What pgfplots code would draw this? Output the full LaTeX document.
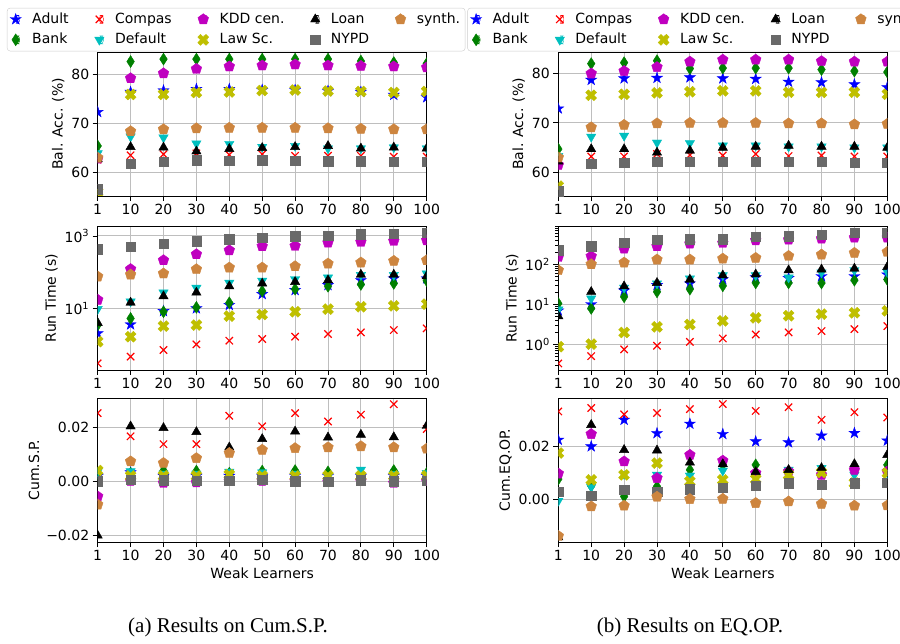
\documentclass[border=0pt]{standalone}
\usepackage{pgfplots}
\pgfplotsset{compat=1.18}
\usepackage{pgfplotstable}
\usepackage{fontspec}
\setmainfont{DejaVu Sans}
\newfontfamily\capfont{Liberation Serif}
\usetikzlibrary{plotmarks}

\definecolor{cAdult}{RGB}{0,0,255}
\definecolor{cBank}{RGB}{0,128,0}
\definecolor{cCompas}{RGB}{255,0,0}
\definecolor{cDefault}{RGB}{0,191,191}
\definecolor{cKDD}{RGB}{191,0,191}
\definecolor{cLaw}{RGB}{191,191,0}
\definecolor{cLoan}{RGB}{0,0,0}
\definecolor{cNYPD}{RGB}{105,105,105}
\definecolor{cSynth}{RGB}{205,133,63}
\definecolor{gridc}{RGB}{190,190,190}
\definecolor{legc}{RGB}{204,204,204}

\pgfdeclareplotmark{mstar}{%
  \pgfpathmoveto{\pgfqpointpolar{90}{\pgfplotmarksize}}%
  \pgfpathlineto{\pgfqpointpolar{126}{0.382\pgfplotmarksize}}%
  \pgfpathlineto{\pgfqpointpolar{162}{\pgfplotmarksize}}%
  \pgfpathlineto{\pgfqpointpolar{198}{0.382\pgfplotmarksize}}%
  \pgfpathlineto{\pgfqpointpolar{234}{\pgfplotmarksize}}%
  \pgfpathlineto{\pgfqpointpolar{270}{0.382\pgfplotmarksize}}%
  \pgfpathlineto{\pgfqpointpolar{306}{\pgfplotmarksize}}%
  \pgfpathlineto{\pgfqpointpolar{342}{0.382\pgfplotmarksize}}%
  \pgfpathlineto{\pgfqpointpolar{18}{\pgfplotmarksize}}%
  \pgfpathlineto{\pgfqpointpolar{54}{0.382\pgfplotmarksize}}%
  \pgfpathclose
  \pgfusepathqfillstroke
}
\pgfdeclareplotmark{mxfill}{%
  \pgfpathmoveto{\pgfqpoint{0.4714\pgfplotmarksize}{-0.9428\pgfplotmarksize}}%
  \pgfpathlineto{\pgfqpoint{0.9428\pgfplotmarksize}{-0.4714\pgfplotmarksize}}%
  \pgfpathlineto{\pgfqpoint{0.4714\pgfplotmarksize}{0pt}}%
  \pgfpathlineto{\pgfqpoint{0.9428\pgfplotmarksize}{0.4714\pgfplotmarksize}}%
  \pgfpathlineto{\pgfqpoint{0.4714\pgfplotmarksize}{0.9428\pgfplotmarksize}}%
  \pgfpathlineto{\pgfqpoint{0pt}{0.4714\pgfplotmarksize}}%
  \pgfpathlineto{\pgfqpoint{-0.4714\pgfplotmarksize}{0.9428\pgfplotmarksize}}%
  \pgfpathlineto{\pgfqpoint{-0.9428\pgfplotmarksize}{0.4714\pgfplotmarksize}}%
  \pgfpathlineto{\pgfqpoint{-0.4714\pgfplotmarksize}{0pt}}%
  \pgfpathlineto{\pgfqpoint{-0.9428\pgfplotmarksize}{-0.4714\pgfplotmarksize}}%
  \pgfpathlineto{\pgfqpoint{-0.4714\pgfplotmarksize}{-0.9428\pgfplotmarksize}}%
  \pgfpathlineto{\pgfqpoint{0pt}{-0.4714\pgfplotmarksize}}%
  \pgfpathclose
  \pgfusepathqfillstroke
}

% ---------- data ----------
\pgfplotstableread{
x Adult Bank Compas Default KDD Law Loan NYPD synth
0 72.3 65.4 62.6 63.9 62.8 56.0 62.7 56.6 63.0
1 76.4 82.6 63.5 67.3 79.2 75.9 65.2 61.8 68.4
2 76.7 83.1 63.7 67.1 80.2 75.9 65.1 62.2 68.8
3 77.0 83.1 63.9 65.9 81.1 76.3 64.3 62.5 69.0
4 77.0 83.1 63.6 65.8 81.6 76.4 64.8 62.4 69.1
5 76.8 83.1 63.7 65.2 81.8 76.7 65.0 62.5 69.1
6 76.8 83.1 63.4 65.4 82.0 76.8 65.2 62.4 69.1
7 76.6 83.1 63.4 64.9 81.8 76.6 65.4 62.3 69.0
8 76.4 82.7 63.4 64.9 81.7 76.5 64.9 62.3 68.9
9 75.8 82.4 63.2 65.1 81.6 76.3 65.1 62.2 68.8
10 75.3 82.2 63.2 64.9 81.4 76.5 64.9 62.2 68.8
}\tabBAa
\pgfplotstableread{
x Adult Bank Compas Default KDD Law Loan NYPD synth
0 72.9 64.7 62.5 63.3 61.5 57.2 62.2 56.2 63.0
1 78.7 82.0 63.2 67.2 80.0 75.6 64.7 61.7 69.1
2 79.0 82.2 63.2 67.4 80.5 75.8 64.7 62.0 69.6
3 79.1 82.6 63.7 66.0 81.3 76.1 64.0 62.2 69.9
4 79.2 81.0 63.5 65.9 82.4 76.3 64.4 62.2 70.0
5 79.0 81.1 63.4 65.4 82.8 76.5 65.0 62.2 70.0
6 78.9 81.1 63.7 65.4 82.8 76.5 65.2 62.2 70.0
7 78.3 81.1 63.3 65.2 82.8 76.2 65.4 62.1 69.9
8 78.2 80.8 63.4 65.2 82.5 76.2 65.2 62.1 69.9
9 77.8 80.5 63.2 65.0 82.4 76.2 65.2 62.0 69.7
10 77.2 80.3 63.2 65.0 82.4 75.8 65.0 62.0 69.8
}\tabBAb
\pgfplotstableread{
x Adult Bank Compas Default KDD Law Loan NYPD synth
0 2.05 3.5 0.306 9.6 17.3 1.21 4.0 430 76
1 3.6 5.3 0.468 15.5 122 1.66 14.5 497 86
2 8.4 8.1 0.713 27.5 214 3.27 21.8 615 92
3 10 10.7 1.02 37 313 3.47 27.5 713 121
4 12.4 14.3 1.29 51 403 6.15 41 810 134
5 24.8 30 1.43 58 520 6.8 49 900 134
6 32 34 1.66 64 531 8.1 54 979 146
7 44 41 1.97 71 656 9.6 60 1000 173
8 60 46 2.18 83 684 11.1 86 1110 185
9 67 49 2.53 83 728 11.8 86 1160 205
10 67 58 2.82 92 760 13.2 78 1235 214
}\tabRTa
\pgfplotstableread{
x Adult Bank Compas Default KDD Law Loan NYPD synth
0 7 10.5 0.336 7.4 152 0.875 5.08 223 71
1 10 7.9 0.51 14 158 1.02 20.5 281 100
2 22 15.4 0.75 26 245 1.99 28.3 340 110
3 30 20.5 0.93 33 281 2.75 34.3 411 131
4 33 23.9 1.16 44 327 3.15 41.5 419 131
5 42 28.9 1.41 53 340 3.88 53 419 138
6 47 34.3 1.77 53 396 4.61 56 479 144
7 45 34.3 1.99 46.5 411 5.17 71 498 161
8 50 34 2.15 62 435 5.69 74 548 174
9 50 40 2.41 71 461 6.14 78 603 192
10 55 41.5 2.86 64 461 6.89 86 614 203
}\tabRTb
\pgfplotstableread{
x Adult Bank Compas Default KDD Law Loan NYPD synth
0 0.0020 0.0030 0.0253 0.0037 -0.0056 0.0040 -0.0201 0.0000 -0.0086
1 0.0033 0.0030 0.0167 0.0037 0.0002 0.0020 0.0204 0.0006 0.0074
2 0.0020 0.0040 0.0138 0.0028 -0.0006 0.0020 0.0198 0.0004 0.0068
3 0.0020 0.0038 0.0138 0.0028 -0.0004 0.0020 0.0183 0.0002 0.0086
4 0.0020 0.0030 0.0243 0.0035 0.0001 0.0025 0.0126 0.0002 0.0105
5 0.0020 0.0038 0.0204 0.0033 0.0002 0.0020 0.0157 0.0006 0.0117
6 0.0020 0.0040 0.0253 0.0028 0.0001 0.0020 0.0185 0.0000 0.0123
7 0.0020 0.0035 0.0222 0.0019 -0.0002 0.0020 0.0163 -0.0002 0.0126
8 0.0020 0.0030 0.0247 0.0043 0.0001 0.0020 0.0173 0.0004 0.0130
9 0.0020 0.0040 0.0286 0.0027 -0.0006 0.0020 0.0164 0.0000 0.0126
10 0.0020 0.0030 0.0194 0.0031 0.0001 0.0020 0.0206 0.0002 0.0121
}\tabSP
\pgfplotstableread{
x Adult Bank Compas Default KDD Law Loan NYPD synth
0 0.0225 0.0076 0.0333 -0.0007 0.0097 0.0175 -0.0145 0.0029 -0.0140
1 0.0200 0.0050 0.0346 0.0046 0.0247 0.0073 0.0282 0.0013 -0.0028
2 0.0301 0.0010 0.0322 0.0095 0.0143 0.0092 0.0187 0.0035 -0.0025
3 0.0250 0.0048 0.0327 0.0092 0.0080 0.0137 0.0185 0.0029 0.0009
4 0.0286 0.0111 0.0342 0.0089 0.0168 0.0067 0.0139 0.0038 0.0000
5 0.0247 0.0130 0.0361 0.0108 0.0146 0.0073 0.0133 0.0044 0.0001
6 0.0219 0.0130 0.0335 0.0092 0.0099 0.0076 0.0103 0.0052 -0.0015
7 0.0215 0.0105 0.0349 0.0111 0.0105 0.0092 0.0111 0.0061 -0.0009
8 0.0241 0.0100 0.0301 0.0118 0.0092 0.0101 0.0118 0.0054 -0.0018
9 0.0251 0.0118 0.0330 0.0092 0.0111 0.0061 0.0133 0.0061 -0.0025
10 0.0222 0.0130 0.0310 0.0100 0.0105 0.0099 0.0168 0.0063 -0.0024
}\tabEO

\newcommand{\fs}{\fontsize{14}{16.8}\selectfont}

\pgfplotsset{
  sAdult/.style={only marks, mark=mstar, mark size=5.8pt, color=cAdult, mark options={line width=0.4pt}},
  sBank/.style={only marks, mark=diamond*, mark size=6pt, color=cBank, mark options={xscale=0.85, line width=0.4pt}},
  sCompas/.style={only marks, mark=x, mark size=5.2pt, color=cCompas, mark options={line width=1.2pt}},
  sDefault/.style={only marks, mark=triangle*, mark size=5.4pt, color=cDefault, mark options={rotate=180, line width=0.4pt}},
  sKDD/.style={only marks, mark=pentagon*, mark size=5.6pt, color=cKDD, mark options={line width=0.4pt}},
  sLaw/.style={only marks, mark=mxfill, mark size=5.8pt, color=cLaw, mark options={line width=0.4pt}},
  sLoan/.style={only marks, mark=triangle*, mark size=5.4pt, color=cLoan, mark options={line width=0.4pt}},
  sNYPD/.style={only marks, mark=square*, mark size=4.7pt, color=cNYPD, mark options={line width=0.4pt}},
  sSynth/.style={only marks, mark=pentagon*, mark size=5.6pt, color=cSynth, mark options={line width=0.4pt}},
  panel/.style={
    scale only axis, width=329pt, height=144pt,
    xmin=0, xmax=10, xtick={0,...,10},
    xticklabels={1,10,20,30,40,50,60,70,80,90,100},
    grid=major, major grid style={line width=1pt, color=gridc},
    axis line style={line width=0.9pt},
    tick align=outside, tick pos=left,
    major tick length=5pt, minor tick length=3pt,
    tick style={line width=0.9pt, black},
    clip marker paths=true,
    scaled y ticks=false,
    every tick label/.append style={font=\fs},
    label style={font=\fs},
    /pgf/number format/assume math mode=true,
  },
  toplegend/.style={
    legend columns=2, transpose legend, legend cell align=left,
    legend image code/.code={\path (0pt,-4pt) rectangle (4pt,4pt); \draw[sharp corners,##1] plot coordinates {(0pt,0pt)};},
    legend style={at={(#1,1.005)}, anchor=south west, draw=legc, fill=white,
      rounded corners=3pt, font=\fs, inner xsep=3pt, inner ysep=2.5pt, row sep=3pt,
      /tikz/every odd column/.style={column sep=9pt},
      /tikz/every even column/.style={column sep=24pt},
      nodes={inner sep=2pt, text height=10.5pt, text depth=3pt}},
  },
}

\newcommand{\allplots}[1]{%
  \addplot[sAdult] table[x=x,y=Adult]{#1};
  \addplot[sBank] table[x=x,y=Bank]{#1};
  \addplot[sCompas] table[x=x,y=Compas]{#1};
  \addplot[sDefault] table[x=x,y=Default]{#1};
  \addplot[sKDD] table[x=x,y=KDD]{#1};
  \addplot[sLaw] table[x=x,y=Law]{#1};
  \addplot[sLoan] table[x=x,y=Loan]{#1};
  \addplot[sNYPD] table[x=x,y=NYPD]{#1};
  \addplot[sSynth] table[x=x,y=synth]{#1};
}

\begin{document}
\begin{tikzpicture}
\useasboundingbox (0pt,0pt) rectangle (900pt,-644pt);

% ===== left column =====
\begin{axis}[panel, toplegend=-0.2757, at={(97.7pt,-52pt)}, anchor=north west,
  ymin=55.2, ymax=84.55, ytick={60,70,80}, yticklabels={60,70,80},
  ylabel={Bal. Acc. (\%)}]
\allplots{\tabBAa}
\legend{Adult,Bank,Compas,Default,KDD cen.,Law Sc.,Loan,NYPD,synth.}
\end{axis}

\begin{axis}[panel, at={(97.7pt,-226pt)}, anchor=north west,
  ymode=log, ymin=0.2, ymax=1885, ytick={10,1000},
  yticklabels={10\textsuperscript{1},10\textsuperscript{3}},
  ylabel={Run Time (s)}]
\allplots{\tabRTa}
\end{axis}

\begin{axis}[panel, at={(97.7pt,-398pt)}, anchor=north west,
  ymin=-0.0225, ymax=0.0309, ytick={-0.02,0,0.02},
  yticklabels={−0.02,0.00,0.02},
  ylabel={Cum.S.P.}, xlabel={Weak Learners}]
\allplots{\tabSP}
\end{axis}

% ===== right column =====
\begin{axis}[panel, toplegend=-0.2763, at={(558.3pt,-52pt)}, anchor=north west,
  ymin=55.2, ymax=84.36, ytick={60,70,80}, yticklabels={60,70,80},
  ylabel={Bal. Acc. (\%)}]
\allplots{\tabBAb}
\legend{Adult,Bank,Compas,Default,KDD cen.,Law Sc.,Loan,NYPD,synth.}
\end{axis}

\begin{axis}[panel, at={(558.3pt,-226pt)}, anchor=north west,
  ymode=log, ymin=0.23, ymax=900, ytick={1,10,100},
  yticklabels={10\textsuperscript{0},10\textsuperscript{1},10\textsuperscript{2}},
  minor ytick={0.3,0.4,0.5,0.6,0.7,0.8,0.9,2,3,4,5,6,7,8,9,20,30,40,50,60,70,80,90,200,300,400,500,600,700,800,900},
  minor grid style={draw=none},
  ylabel={Run Time (s)}]
\allplots{\tabRTb}
\end{axis}

\begin{axis}[panel, at={(558.3pt,-398pt)}, anchor=north west,
  ymin=-0.0163, ymax=0.0384, ytick={0,0.02},
  yticklabels={0.00,0.02},
  ylabel={Cum.EQ.OP.}, xlabel={Weak Learners}]
\allplots{\tabEO}
\end{axis}

\node[font=\capfont\fontsize{21}{25}\selectfont] at (228pt,-627pt) {(a) Results on Cum.S.P.};
\node[font=\capfont\fontsize{21}{25}\selectfont] at (690pt,-627pt) {(b) Results on EQ.OP.};
\end{tikzpicture}
\end{document}
